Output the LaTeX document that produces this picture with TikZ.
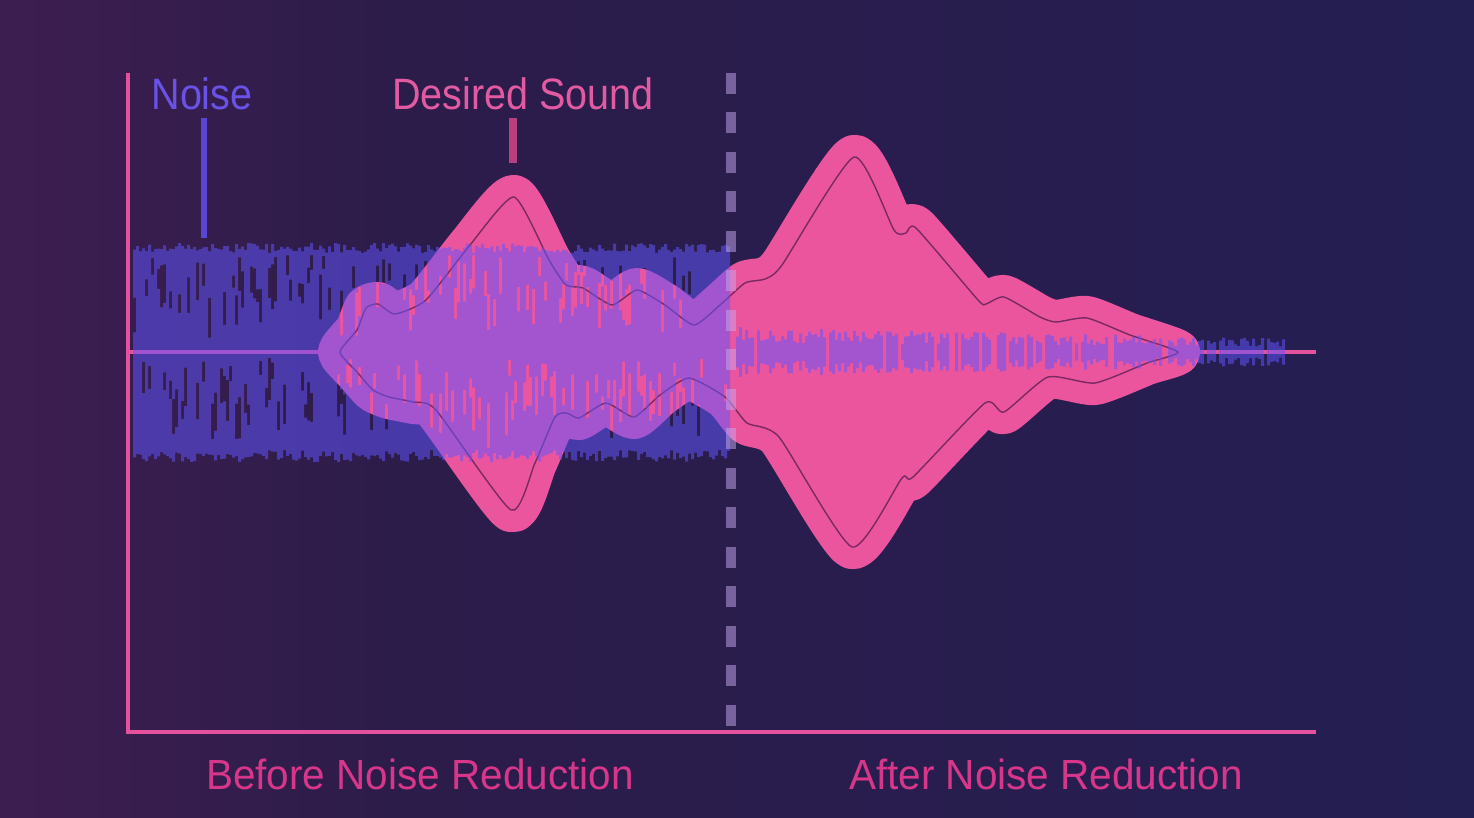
\documentclass[tikz,border=0pt]{standalone}
\usepackage{fontspec}
\setmainfont{Liberation Sans}
\definecolor{bgleft}{HTML}{3D1E50}
\definecolor{bgmid}{HTML}{2C1C4A}
\definecolor{bgright}{HTML}{241F52}
\definecolor{wavepink}{HTML}{EA559E}
\definecolor{axispink}{HTML}{E4529E}
\definecolor{noiseblue}{HTML}{6355FF}
\definecolor{edgeline}{HTML}{7A2A62}
\definecolor{noiselabel}{HTML}{6A52E6}
\definecolor{soundlabel}{HTML}{E25AA2}
\definecolor{bottomlabel}{HTML}{D8368A}
\definecolor{dashcol}{HTML}{C8AAF0}
\definecolor{noisetick}{HTML}{5A46D2}
\definecolor{soundtick}{HTML}{B8407E}

\begin{document}
\begin{tikzpicture}[
	x=0.02cm, y=-0.02cm,
	axisline/.style={draw=axispink, line width=2.3pt},
	wave/.style={fill=wavepink, draw=wavepink, line width=0.88cm, line join=round},
	waveedge/.style={draw=edgeline, line width=0.8pt},
	noise/.style={fill=noiseblue, fill opacity=0.52},
	divider/.style={draw=dashcol, draw opacity=0.5, line width=0.2cm, dash pattern=on 0.42cm off 0.37cm},
	toplabel/.style={font=\fontsize{25}{30}\selectfont, xscale=0.9, inner sep=0pt},
	bottomlbl/.style={font=\fontsize{24}{29}\selectfont, xscale=0.96, text=bottomlabel, inner sep=0pt}
	]
	\useasboundingbox (0,0) rectangle (1474,818);
	\shade[left color=bgleft, right color=bgmid] (0,0) rectangle (400,818);
	\shade[left color=bgmid, right color=bgright] (400,0) rectangle (1474,818);

	\coordinate (origin) at (128,732);
	\coordinate (ytop) at (128,73);
	\coordinate (xend) at (1316,732);
	\coordinate (midstart) at (128,352);
	\coordinate (midend) at (1316,352);
	\coordinate (splittop) at (731,73);
	\coordinate (splitbot) at (731,730);

	\draw[axisline] (midstart) -- (midend);

	% envelope of the wanted signal
	\def\envelope{(340,352) (357,330) (366,308) (378,304) (395,314) (426,300) (470,245)
		(514,197) (549,260) (566,285) (583,288) (612,305) (637,290) (665,305) (694,325)
		(720,305) (745,283) (765,279) (782,265) (854,157) (894,230) (906,233) (916,228)
		(978,300) (986,304) (1004,297) (1040,317) (1056,322) (1087,318) (1130,335)
		(1178,352) (1147,363) (1095,383) (1048,377) (1004,412) (985,403) (913,477)
		(902,478) (852,547) (779,437) (747,423) (725,397) (689,378) (660,395) (634,417)
		(606,403) (579,418) (567,413) (555,417) (535,463) (511,510) (436,410) (413,402)
		(389,397) (373,390) (357,372)}
	\draw[wave] plot[smooth cycle, tension=0.35] coordinates {\envelope};
	\draw[waveedge] plot[smooth cycle, tension=0.35] coordinates {\envelope};

	% noise
	\pgfmathsetseed{11}
	\fill[noise] \foreach \x [evaluate=\x as \ta using {243+10*rnd},
		evaluate=\x as \ua using {255+45*rnd},
		evaluate=\x as \ul using {(rnd<0.45)*(12+33*rnd)},
		evaluate=\x as \la using {358+47*rnd},
		evaluate=\x as \ll using {(rnd<0.45)*(12+33*rnd)},
		evaluate=\x as \tb using {462-12*rnd}] in {133,136,...,727}
		{ (\x,\ta) rectangle (\x+3,\ua) (\x,\ua+\ul) rectangle (\x+3,352)
		  (\x,352) rectangle (\x+3,\la) (\x,\la+\ll) rectangle (\x+3,\tb) };
	\fill[noise] \foreach \x [evaluate=\x as \h using {(rnd>0.15)*(9+16*rnd)*(1-0.45*(\x-736)/550)}] in {736,739,...,1282}
		{ (\x,352-\h) rectangle (\x+3,352+\h) };

	\draw[divider] (splittop) -- (splitbot);
	\draw[axisline] (ytop) -- (origin) -- (xend);

	\node[toplabel, text=noiselabel] (noiselbl) at (202,94) {Noise};
	\node[toplabel, text=soundlabel] (soundlbl) at (523,94) {Desired Sound};
	\coordinate (noisetop) at (204,118);
	\coordinate (noisebot) at (204,238);
	\coordinate (soundtop) at (513,118);
	\coordinate (soundbot) at (513,163);
	\draw[noisetick, line width=0.12cm] (noisetop) -- (noisebot);
	\draw[soundtick, line width=0.16cm] (soundtop) -- (soundbot);

	\node[bottomlbl] (beforelbl) at (420,774) {Before Noise Reduction};
	\node[bottomlbl] (afterlbl) at (1046,774) {After Noise Reduction};
\end{tikzpicture}
\end{document}
